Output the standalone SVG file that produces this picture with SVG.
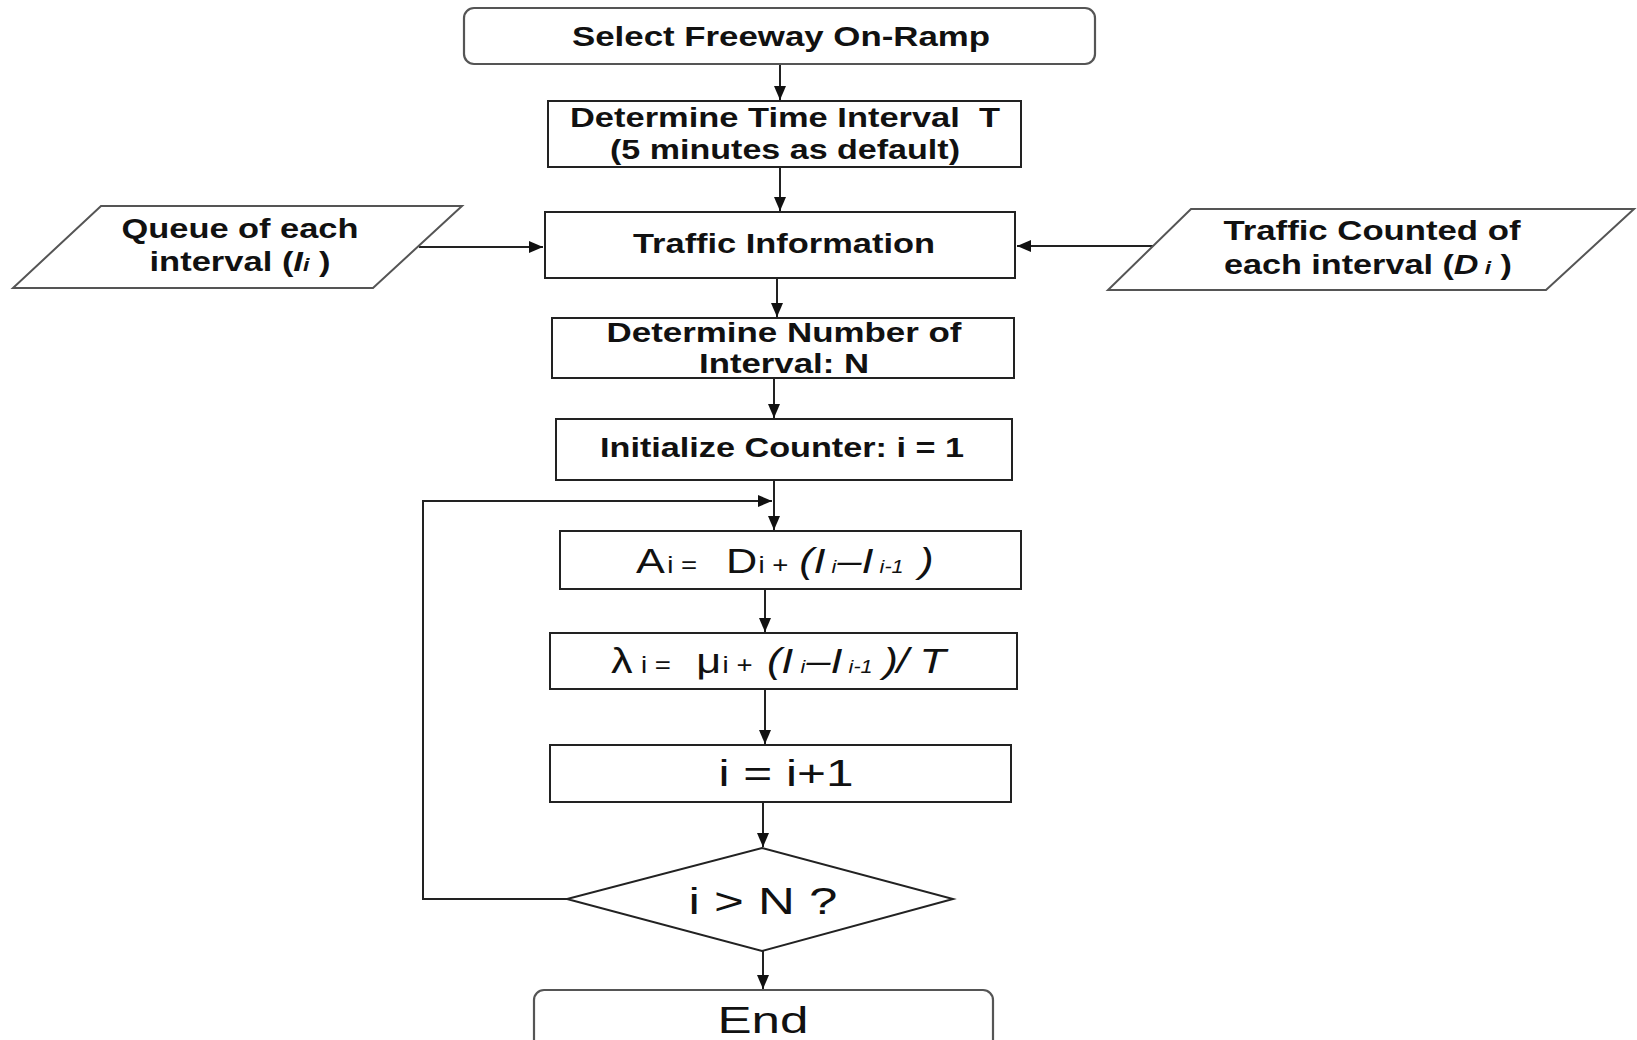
<svg xmlns="http://www.w3.org/2000/svg" width="1637" height="1040" viewBox="0 0 1637 1040">
<style>
.box{fill:#fff;stroke:#222;stroke-width:2}
.rbox{fill:#fff;stroke:#555;stroke-width:2.2}
.para{fill:#fff;stroke:#555;stroke-width:2}
.b{font-family:"Liberation Sans",Arial,sans-serif;font-weight:bold;font-size:27px;fill:#111}
.f{font-family:"Liberation Sans",Arial,sans-serif;font-size:36px;fill:#111}
.s{font-size:23px;font-style:normal}
.it{font-style:italic}
.ti{font-size:18px;font-style:italic}
.c{fill:none;stroke:#222;stroke-width:2}
</style>
<defs>
<marker id="ah" viewBox="0 0 14 12" refX="14" refY="6" markerWidth="14" markerHeight="12" markerUnits="userSpaceOnUse" orient="auto">
<path d="M0,0 L14,6 L0,12 Z" fill="#111"/>
</marker>
</defs>
<g id="connectors">
<line class="c" x1="780" y1="64" x2="780" y2="100" marker-end="url(#ah)"/>
<line class="c" x1="780" y1="167" x2="780" y2="211" marker-end="url(#ah)"/>
<line class="c" x1="419" y1="247" x2="543" y2="247" marker-end="url(#ah)"/>
<line class="c" x1="1156" y1="246" x2="1017" y2="246" marker-end="url(#ah)"/>
<line class="c" x1="777" y1="278" x2="777" y2="317" marker-end="url(#ah)"/>
<line class="c" x1="774" y1="378" x2="774" y2="418" marker-end="url(#ah)"/>
<line class="c" x1="774" y1="480" x2="774" y2="530" marker-end="url(#ah)"/>
<line class="c" x1="765" y1="589" x2="765" y2="632" marker-end="url(#ah)"/>
<line class="c" x1="765" y1="689" x2="765" y2="744" marker-end="url(#ah)"/>
<line class="c" x1="763" y1="802" x2="763" y2="847" marker-end="url(#ah)"/>
<line class="c" x1="763" y1="951" x2="763" y2="989" marker-end="url(#ah)"/>
<polyline class="c" points="567,899 423,899 423,501 772,501" marker-end="url(#ah)"/>
</g>
<g id="n_select">
<rect class="rbox" x="464" y="8" width="631" height="56" rx="10"/>
<text class="b" x="781" y="46" text-anchor="middle" textLength="418" lengthAdjust="spacingAndGlyphs">Select Freeway On-Ramp</text>
</g>
<g id="n_time">
<rect class="box" x="548" y="101" width="473" height="66"/>
<text class="b" x="785" y="127" text-anchor="middle" textLength="430" lengthAdjust="spacingAndGlyphs" xml:space="preserve">Determine Time Interval  T</text>
<text class="b" x="785" y="159" text-anchor="middle" textLength="350" lengthAdjust="spacingAndGlyphs">(5 minutes as default)</text>
</g>
<g id="n_traffic">
<rect class="box" x="545" y="212" width="470" height="66"/>
<text class="b" x="784" y="253" text-anchor="middle" textLength="302" lengthAdjust="spacingAndGlyphs">Traffic Information</text>
</g>
<g id="n_queue">
<polygon class="para" points="101,206 462,206 373,288 13,288"/>
<text class="b" x="240" y="238" text-anchor="middle" textLength="237" lengthAdjust="spacingAndGlyphs">Queue of each</text>
<text class="b" x="240" y="271" text-anchor="middle" textLength="181" lengthAdjust="spacingAndGlyphs">interval (<tspan class="it">I</tspan><tspan class="it" font-size="18">i</tspan> )</text>
</g>
<g id="n_counted">
<polygon class="para" points="1191,209 1634,209 1546,290 1108,290"/>
<text class="b" x="1372" y="240" text-anchor="middle" textLength="297" lengthAdjust="spacingAndGlyphs">Traffic Counted of</text>
<text class="b" x="1368" y="274" text-anchor="middle" textLength="288" lengthAdjust="spacingAndGlyphs">each interval (<tspan class="it">D</tspan><tspan class="it" font-size="18"> i</tspan> )</text>
</g>
<g id="n_number">
<rect class="box" x="552" y="318" width="462" height="60"/>
<text class="b" x="784" y="342" text-anchor="middle" textLength="355" lengthAdjust="spacingAndGlyphs">Determine Number of</text>
<text class="b" x="784" y="373" text-anchor="middle" textLength="170" lengthAdjust="spacingAndGlyphs">Interval: N</text>
</g>
<g id="n_init">
<rect class="box" x="556" y="419" width="456" height="61"/>
<text class="b" x="782" y="457" text-anchor="middle" textLength="364" lengthAdjust="spacingAndGlyphs">Initialize Counter: i = 1</text>
</g>
<g id="n_arrival">
<rect class="box" x="560" y="531" width="461" height="58"/>
<text class="f" y="573" transform="translate(636,0) scale(1.2,1)"><tspan x="0">A</tspan><tspan class="s" x="26">i =</tspan><tspan x="75">D</tspan><tspan class="s" x="102">i +</tspan><tspan class="it" x="136">(I</tspan><tspan class="ti" x="163">i</tspan><tspan class="it" x="168">–I</tspan><tspan class="ti" x="203">i-1</tspan><tspan class="it" x="236">)</tspan></text>
</g>
<g id="n_lambda">
<rect class="box" x="550" y="633" width="467" height="56"/>
<text class="f" y="673" transform="translate(611,0) scale(1.2,1)"><tspan x="0">λ</tspan><tspan class="s" x="25">i =</tspan><tspan x="71">μ</tspan><tspan class="s" x="93">i +</tspan><tspan class="it" x="130">(I</tspan><tspan class="ti" x="158">i</tspan><tspan class="it" x="163">–I</tspan><tspan class="ti" x="198">i-1</tspan><tspan class="it" x="227">)</tspan><tspan class="it" x="238">/</tspan><tspan class="it" x="257">T</tspan></text>
</g>
<g id="n_incr">
<rect class="box" x="550" y="745" width="461" height="57"/>
<text class="f" x="786" y="786" text-anchor="middle" textLength="135" lengthAdjust="spacingAndGlyphs">i = i+1</text>
</g>
<g id="n_decision">
<polygon class="box" points="762,848 953,899 762,951 567,899"/>
<text class="f" x="763" y="914" text-anchor="middle" textLength="149" lengthAdjust="spacingAndGlyphs">i &gt; N ?</text>
</g>
<g id="n_end">
<rect class="rbox" x="534" y="990" width="459" height="90" rx="10"/>
<text class="f" x="763" y="1033" text-anchor="middle" textLength="91" lengthAdjust="spacingAndGlyphs">End</text>
</g>
</svg>
